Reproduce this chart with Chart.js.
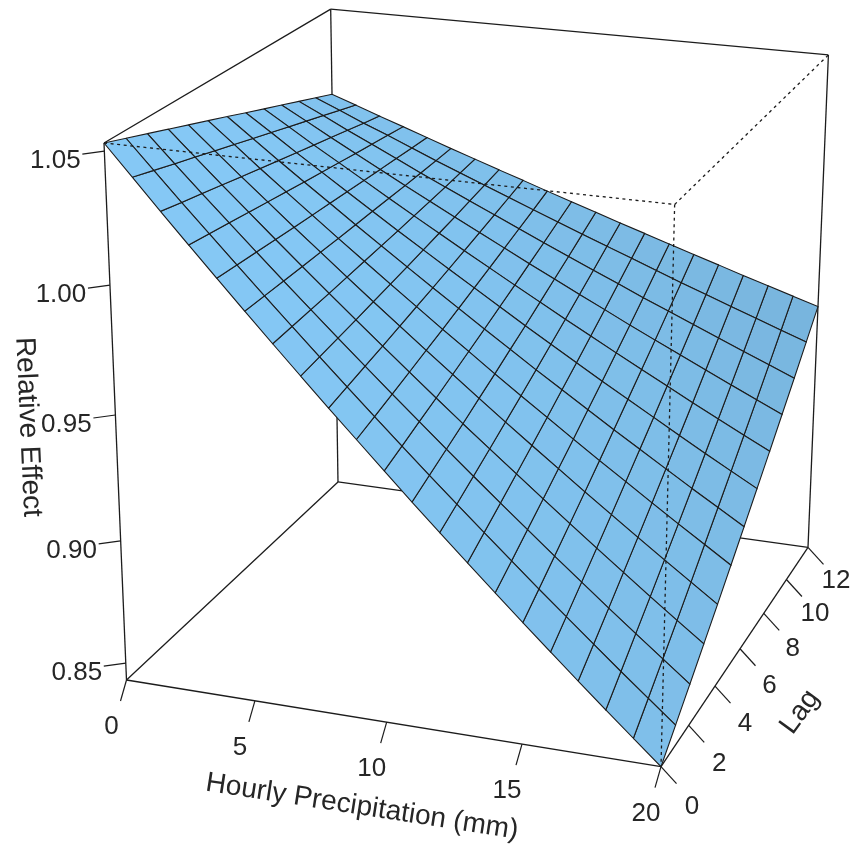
<!DOCTYPE html>
<html>
<head>
<meta charset="utf-8">
<title>Relative Effect surface</title>
<script src="https://cdn.jsdelivr.net/npm/chart.js@4"></script>
<style>
html, body { margin: 0; padding: 0; background: #fff; }
canvas { display: block; }
</style>
</head>
<body>
<canvas id="surfaceChart" width="853" height="846"></canvas>
<script>
const precipTicks = [0, 5, 10, 15, 20];
const lagTicks = [0, 2, 4, 6, 8, 10, 12];
const effectTicks = [0.85, 0.90, 0.95, 1.00, 1.05];
const effectTickLabels = ["0.85", "0.90", "0.95", "1.00", "1.05"];

const precipRange = [0, 20];
const lagRange = [0, 12];
const effectRange = [0.843, 1.053];

const precip = [0, 1, 2, 3, 4, 5, 6, 7, 8, 9, 10, 11, 12, 13, 14, 15, 16, 17, 18, 19, 20];
const lags = [0, 1, 2, 3, 4, 5, 6, 7, 8, 9, 10, 11, 12];

// one row per precipitation value, one column per lag
const effect = [
    [1.0530, 1.0500, 1.0470, 1.0440, 1.0410, 1.0380, 1.0350, 1.0319, 1.0289, 1.0259, 1.0229, 1.0199, 1.0169],
    [1.0415, 1.0391, 1.0367, 1.0344, 1.0320, 1.0297, 1.0273, 1.0250, 1.0226, 1.0203, 1.0180, 1.0156, 1.0133],
    [1.0300, 1.0282, 1.0265, 1.0248, 1.0230, 1.0213, 1.0196, 1.0179, 1.0162, 1.0146, 1.0129, 1.0112, 1.0096],
    [1.0187, 1.0176, 1.0165, 1.0154, 1.0143, 1.0132, 1.0121, 1.0111, 1.0101, 1.0090, 1.0081, 1.0071, 1.0061],
    [1.0075, 1.0070, 1.0065, 1.0060, 1.0055, 1.0051, 1.0047, 1.0043, 1.0039, 1.0035, 1.0032, 1.0028, 1.0025],
    [0.9964, 0.9965, 0.9966, 0.9967, 0.9969, 0.9970, 0.9972, 0.9975, 0.9977, 0.9979, 0.9982, 0.9985, 0.9989],
    [0.9854, 0.9861, 0.9868, 0.9875, 0.9883, 0.9891, 0.9899, 0.9907, 0.9916, 0.9925, 0.9934, 0.9944, 0.9954],
    [0.9745, 0.9758, 0.9771, 0.9784, 0.9798, 0.9812, 0.9826, 0.9841, 0.9856, 0.9871, 0.9887, 0.9903, 0.9919],
    [0.9637, 0.9656, 0.9675, 0.9694, 0.9714, 0.9734, 0.9754, 0.9775, 0.9796, 0.9818, 0.9840, 0.9862, 0.9885],
    [0.9531, 0.9555, 0.9580, 0.9605, 0.9631, 0.9656, 0.9683, 0.9710, 0.9737, 0.9765, 0.9793, 0.9821, 0.9850],
    [0.9425, 0.9455, 0.9486, 0.9516, 0.9548, 0.9580, 0.9612, 0.9645, 0.9678, 0.9712, 0.9746, 0.9781, 0.9816],
    [0.9320, 0.9356, 0.9392, 0.9428, 0.9466, 0.9503, 0.9542, 0.9580, 0.9620, 0.9660, 0.9700, 0.9741, 0.9782],
    [0.9217, 0.9258, 0.9300, 0.9342, 0.9385, 0.9428, 0.9472, 0.9517, 0.9562, 0.9608, 0.9654, 0.9701, 0.9748],
    [0.9115, 0.9162, 0.9209, 0.9257, 0.9305, 0.9354, 0.9404, 0.9454, 0.9505, 0.9557, 0.9609, 0.9662, 0.9715],
    [0.9014, 0.9066, 0.9119, 0.9172, 0.9226, 0.9280, 0.9336, 0.9391, 0.9448, 0.9505, 0.9563, 0.9622, 0.9681],
    [0.8914, 0.8971, 0.9029, 0.9088, 0.9147, 0.9207, 0.9268, 0.9330, 0.9392, 0.9455, 0.9519, 0.9583, 0.9648],
    [0.8815, 0.8878, 0.8941, 0.9005, 0.9070, 0.9136, 0.9202, 0.9269, 0.9337, 0.9406, 0.9475, 0.9545, 0.9616],
    [0.8717, 0.8785, 0.8853, 0.8923, 0.8993, 0.9064, 0.9136, 0.9208, 0.9281, 0.9356, 0.9431, 0.9507, 0.9583],
    [0.8620, 0.8693, 0.8767, 0.8841, 0.8917, 0.8993, 0.9070, 0.9148, 0.9227, 0.9307, 0.9387, 0.9469, 0.9551],
    [0.8525, 0.8603, 0.8682, 0.8761, 0.8842, 0.8924, 0.9006, 0.9089, 0.9173, 0.9258, 0.9344, 0.9431, 0.9519],
    [0.8430, 0.8513, 0.8597, 0.8682, 0.8767, 0.8854, 0.8942, 0.9031, 0.9120, 0.9210, 0.9301, 0.9394, 0.9487]
];

// perspective view of the unit box, in canvas pixels
const view = {
    ax: 500.4, ay: 47.1, bx: 263.35, by: -124.1, cx: -28.96, cy: -545.9, dx: 126.5, dy: 680,
    pa: -0.0516, pb: 0.1534, pc: -0.0621
};

function project(p, l, e) {
    const u = (p - precipRange[0]) / (precipRange[1] - precipRange[0]);
    const v = (l - lagRange[0]) / (lagRange[1] - lagRange[0]);
    const w = (e - effectRange[0]) / (effectRange[1] - effectRange[0]);
    const den = 1 + view.pa * u + view.pb * v + view.pc * w;
    return {
        x: (view.ax * u + view.bx * v + view.cx * w + view.dx) / den,
        y: (view.ay * u + view.by * v + view.cy * w + view.dy) / den
    };
}

function lineSet(points, order, dash, width) {
    return {
        data: points,
        showLine: true,
        fill: false,
        borderColor: "#1c1c1c",
        borderWidth: width,
        borderDash: dash,
        pointRadius: 0,
        order: order,
        clip: false
    };
}

function boxEdge(a, b, dash) {
    return lineSet([
        project(precipRange[a[0]], lagRange[a[1]], effectRange[a[2]]),
        project(precipRange[b[0]], lagRange[b[1]], effectRange[b[2]])
    ], dash.length ? 0 : 5, dash, 1.3);
}

function cellColor(i, j) {
    // slope of the surface from its whole row and column, lit from the front left
    const eSpan = effectRange[1] - effectRange[0];
    const nu = -(effect[precip.length - 1][j] - effect[0][j]) / eSpan;
    const nv = -(effect[i][lags.length - 1] - effect[i][0]) / eSpan;
    const len = Math.sqrt(nu * nu + nv * nv + 1);
    const s = (0.7 * nu + 0.2 * nv + 0.68) / len;
    const f = 0.89 + (s - 0.688) / 0.302 * 0.11;
    return `rgb(${Math.round(133 * f)}, ${Math.round(200 * f)}, ${Math.round(245 * f)})`;
}

const datasets = [];

// back and front edges of the box
const solidEdges = [
    [[0, 0, 0], [1, 0, 0]], [[1, 0, 0], [1, 1, 0]], [[1, 1, 0], [0, 1, 0]], [[0, 1, 0], [0, 0, 0]],
    [[0, 0, 0], [0, 0, 1]], [[0, 1, 0], [0, 1, 1]], [[1, 1, 0], [1, 1, 1]],
    [[0, 0, 1], [0, 1, 1]], [[0, 1, 1], [1, 1, 1]]
];
const dashedEdges = [
    [[0, 0, 1], [1, 0, 1]], [[1, 0, 1], [1, 1, 1]], [[1, 0, 1], [1, 0, 0]]
];
solidEdges.forEach(e => datasets.push(boxEdge(e[0], e[1], [])));
dashedEdges.forEach(e => datasets.push(boxEdge(e[0], e[1], [3, 3.6])));

// tick marks
precipTicks.forEach(p => {
    const base = project(p, lagRange[0], effectRange[0]);
    datasets.push(lineSet([base, { x: base.x - 6, y: base.y + 21 }], 5, [], 1.2));
});
lagTicks.forEach(l => {
    const base = project(precipRange[1], l, effectRange[0]);
    datasets.push(lineSet([base, { x: base.x + 15.5, y: base.y + 17 }], 5, [], 1.2));
});
effectTicks.forEach(e => {
    const base = project(precipRange[0], lagRange[0], e);
    datasets.push(lineSet([base, { x: base.x - 22, y: base.y + 3 }], 5, [], 1.2));
});

// surface facets
for (let i = 0; i < precip.length - 1; i++) {
    for (let j = 0; j < lags.length - 1; j++) {
        const cell = lineSet([
            project(precip[i], lags[j], effect[i][j]),
            project(precip[i + 1], lags[j], effect[i + 1][j]),
            project(precip[i + 1], lags[j + 1], effect[i + 1][j + 1]),
            project(precip[i], lags[j + 1], effect[i][j + 1]),
            project(precip[i], lags[j], effect[i][j])
        ], 1, [], 1.1);
        cell.fill = "shape";
        cell.backgroundColor = cellColor(i, j);
        datasets.push(cell);
    }
}

const axisText = {
    id: "axisText",
    afterDraw(chart) {
        const { ctx, scales } = chart;
        const put = (text, x, y, angle, font) => {
            ctx.save();
            ctx.translate(scales.x.getPixelForValue(x), scales.y.getPixelForValue(y));
            ctx.rotate(angle * Math.PI / 180);
            ctx.font = font;
            ctx.fillStyle = "#262626";
            ctx.textAlign = "center";
            ctx.textBaseline = "middle";
            ctx.fillText(text, 0, 0);
            ctx.restore();
        };
        const tickFont = '26px "Liberation Sans"';
        const titleFont = '28px "Liberation Sans"';
        precipTicks.forEach(p => {
            const b = project(p, lagRange[0], effectRange[0]);
            put(String(p), b.x - 15, b.y + 47, 0, tickFont);
        });
        lagTicks.forEach(l => {
            const b = project(precipRange[1], l, effectRange[0]);
            put(String(l), b.x + 31 - l * 0.25, b.y + 40 - l * 0.55, 0, tickFont);
        });
        effectTicks.forEach((e, k) => {
            const b = project(precipRange[0], lagRange[0], e);
            put(effectTickLabels[k], b.x - 49, b.y + 10, 0, tickFont);
        });
        put("Hourly Precipitation (mm)", 362, 807, 8.8, titleFont);
        put("Lag", 800, 712, -54, titleFont);
        put("Relative Effect", 28, 427, 87.5, titleFont);
    }
};

new Chart(document.getElementById("surfaceChart"), {
    type: "scatter",
    data: { datasets: datasets },
    options: {
        responsive: false,
        animation: false,
        layout: { padding: 0 },
        scales: {
            x: { type: "linear", min: 0, max: 853, display: false },
            y: { type: "linear", min: 0, max: 846, reverse: true, display: false }
        },
        plugins: {
            legend: { display: false },
            tooltip: { enabled: false }
        }
    },
    plugins: [axisText]
});
</script>
</body>
</html>
